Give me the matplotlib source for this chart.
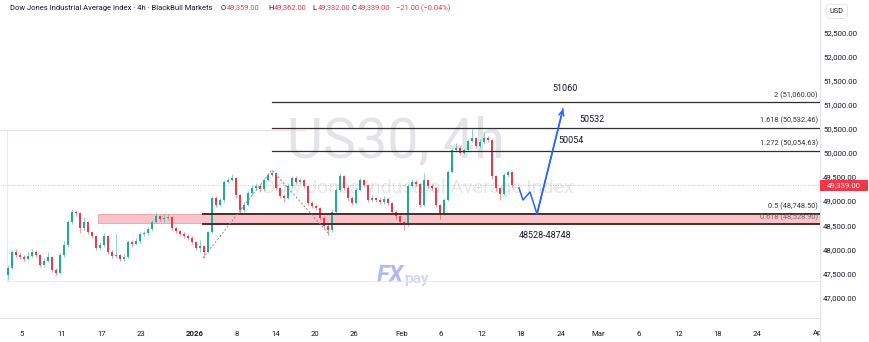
import matplotlib.pyplot as plt
from matplotlib.patches import Rectangle

plt.rcParams['font.family'] = ['Roboto', 'DejaVu Sans']

# 4h свічки US30 (наближено з картинки)
first_open = 47480
closes = [47623, 47955, 47892, 47851, 47809, 47872, 47955, 47892, 47685, 47768,
          47851, 47581, 47519, 47892, 48100, 48577, 48785, 48764, 48453, 48577,
          48370, 48287, 48038, 48100, 48287, 47955, 47872, 47892, 47809, 47851,
          48162, 48121, 48183, 48328, 48349, 48432, 48577, 48702, 48640, 48660,
          48681, 48453, 48391, 48328, 48287, 48245, 48162, 48038, 48079, 47955,
          48370, 49075, 48930, 49034, 49408, 49449, 49491, 49138, 48826, 48930,
          49179, 49283, 49324, 49262, 49449, 49553, 49594, 49283, 49117, 49075,
          49324, 49491, 49408, 49449, 49324, 48972, 48909, 48868, 48660, 48494,
          48411, 48785, 49241, 49532, 49283, 49075, 48972, 49241, 49449, 49345,
          49034, 49075, 49034, 48992, 49055, 48972, 48785, 48702, 48577, 48515,
          49324, 49408, 49366, 48930, 49449, 49324, 49283, 48930, 48743, 49034,
          49615, 50072, 50113, 50009, 50072, 50258, 50321, 50155, 50238, 50321,
          50279, 49532, 49283, 49158, 49553, 49615, 49339]
highs = [47680, 48000, 48020, 47940, 47900, 47960, 48010, 47990, 47920, 47830,
         47960, 47880, 47620, 47940, 48180, 48620, 48840, 48830, 48790, 48680,
         48600, 48400, 48300, 48160, 48340, 48310, 47990, 48330, 47920, 47930,
         48200, 48200, 48240, 48380, 48400, 48480, 48620, 48780, 48730, 48740,
         48740, 48700, 48480, 48420, 48360, 48320, 48280, 48190, 48200, 48110,
         48400, 49120, 49110, 49080, 49450, 49520, 49580, 49520, 49160, 48990,
         49220, 49340, 49380, 49360, 49490, 49600, 49660, 49610, 49300, 49160,
         49360, 49540, 49530, 49500, 49470, 49340, 49010, 48950, 48890, 48700,
         48560, 48820, 49280, 49600, 49560, 49320, 49110, 49280, 49500, 49480,
         49370, 49130, 49100, 49070, 49110, 49090, 49000, 48820, 48730, 48600,
         49360, 49460, 49440, 49390, 49600, 49470, 49360, 49310, 48960, 49080,
         49650, 50110, 50220, 50150, 50120, 50300, 50510, 50340, 50290, 50420,
         50360, 50300, 49560, 49300, 49590, 49660, 49640]
lows = [47380, 47600, 47860, 47800, 47760, 47780, 47850, 47850, 47640, 47650,
        47740, 47550, 47470, 47500, 47860, 48060, 48540, 48700, 48350, 48420,
        48330, 48240, 47990, 47990, 48060, 47920, 47820, 47840, 47760, 47770,
        47830, 48060, 48090, 48150, 48290, 48310, 48400, 48560, 48600, 48580,
        48620, 48420, 48350, 48290, 48250, 48200, 48120, 47990, 47950, 47830,
        47930, 48340, 48890, 48900, 49000, 49380, 49420, 49080, 48760, 48780,
        48900, 49140, 49240, 49200, 49230, 49420, 49530, 49240, 49080, 49000,
        49050, 49300, 49370, 49380, 49280, 48930, 48860, 48820, 48610, 48440,
        48300, 48380, 48760, 49200, 49240, 49020, 48920, 48950, 49220, 49300,
        48990, 49000, 48990, 48950, 48960, 48930, 48740, 48640, 48520, 48410,
        48490, 49300, 49320, 48880, 48910, 49280, 49240, 48880, 48640, 48720,
        49010, 49590, 50030, 49960, 49980, 50040, 50230, 50110, 50120, 50200,
        50230, 49480, 49230, 49034, 49130, 49520, 49300]
opens = [first_open] + closes[:-1]

# рівні Фібоначчі
fib_levels = [51060.00, 50532.46, 50054.63, 48748.50, 48528.90]
fib_labels = ['2 (51,060.00)', '1.618 (50,532.46)', '1.272 (50,054.63)',
              '0.5 (48,748.50)', '0.618 (48,528.90)']
# точки інструменту фібо (індекс свічки, ціна)
fib_x = [48.75, 66, 80.5]
fib_y = [47830, 49657, 48307]
# прогноз (синя лінія)
path_x = [127.75, 128.75, 130.5, 132.25, 138.75]
path_y = [49283, 49034, 49200, 48743, 50923]
targets = ['51060', '50532', '50054', '48528-48748']
target_x = [139.25, 146, 140.75, 134.25]
target_y = [51358, 50715, 50279, 48307]

price_ticks = list(range(47000, 53000, 500))
date_pos = [3.5, 13.5, 23.5, 33.25, 46.75, 57.25, 67, 76.75, 86.5, 98.5, 108.25,
            118.5, 128.25, 138.25, 147.5, 157.75, 167.75, 177.5, 187.25, 202.8]
date_labels = ['5', '11', '17', '23', '2026', '8', '14', '20', '26', 'Feb', '6',
               '12', '18', '24', 'Mar', '6', '12', '18', '24', 'Apr']
last_price = 49339.00

up_col = '#22ab94'
dn_col = '#f23645'
txt_col = '#131722'

W, H = 870, 342
fig = plt.figure(figsize=(W / 100, H / 100), dpi=100)
ax = fig.add_axes([0, 24 / H, 820 / W, 318 / H])
ax.set_xlim(-2, 203)
ax.set_ylim(46585, 53185)
for s in ax.spines.values():
    s.set_visible(False)
ax.set_yticks([])
ax.set_xticks(date_pos)
ax.set_xticklabels(date_labels, fontsize=5.6, color=txt_col)
ax.tick_params(axis='x', length=0, pad=9)
for lbl in ax.get_xticklabels():
    if lbl.get_text() == '2026':
        lbl.set_fontweight('bold')

# водяні знаки
ax.text(97, 50238, 'US30, 4h', fontsize=40, color='#e3e4e8', ha='center',
        va='center', zorder=0)
ax.text(102.5, 49283, 'Dow Jones Industrial Average Index', fontsize=14,
        color='#e6e7ea', ha='center', va='center', zorder=0)
ax.text(99, 47457, 'FX', fontsize=17, fontweight='bold', fontstyle='italic',
        color='#8587ec', alpha=0.6, ha='right', va='center', zorder=0)
ax.text(99, 47400, 'pay', fontsize=11, fontweight='bold', color='#c9caf3',
        alpha=0.8, ha='left', va='center', zorder=0)

# світла рамка
ax.plot([-0.25, -0.25], [47353, 50487], color='#e6e8ee', lw=0.6, zorder=1)
ax.plot([-0.25, 203], [47353, 47353], color='#e6e8ee', lw=0.6, zorder=1)
ax.plot([-2, 74.5], [50487, 50487], color='#f6d5d8', lw=0.6, zorder=1)

# рожева зона
ax.add_patch(Rectangle((22.5, 48560), 203 - 22.5, 48745 - 48560,
                       facecolor='#f9c4c9', edgecolor='#f0909a', lw=0.5, zorder=1))
ax.add_patch(Rectangle((48.75, 48528.9), 203 - 48.75, 48748.5 - 48528.9,
                       facecolor='#f9c4c9', edgecolor='none', zorder=1))

# поточна ціна
ax.axhline(last_price, color='#f23645', lw=0.6, ls=(0, (1, 2)), alpha=0.5, zorder=1)

# свічки
for i, (o, hi, lo, c) in enumerate(zip(opens, highs, lows, closes)):
    col = up_col if c >= o else dn_col
    ax.vlines(i, lo, hi, color=col, lw=0.6, alpha=0.6, zorder=3)
    ax.bar(i, max(abs(c - o), 10), bottom=min(o, c), width=0.7, color=col,
           lw=0, zorder=4)

# фібо-лінії
for k, (lv, lab) in enumerate(zip(fib_levels, fib_labels)):
    if k < 3:
        ax.plot([66, 203], [lv, lv], color='#2f2f2f', lw=0.9, zorder=5)
    else:
        ax.plot([48.75, 203], [lv, lv], color='#4d2b2b', lw=1.4, zorder=5)
    ax.annotate(lab, (202.5, lv), xytext=(0, 2.5), textcoords='offset points',
                ha='right', va='bottom', fontsize=5.3,
                color='#7a6a6a' if k == 4 else '#333333', zorder=6)
ax.plot(fib_x, fib_y, color='#8a8a8a', lw=0.7, ls=(0, (2, 2)), zorder=5)

# прогноз
ax.plot(path_x, path_y, color='#2962ff', lw=1.1, zorder=6)
ax.annotate('', xy=(path_x[-1], path_y[-1]), xytext=(path_x[-2], path_y[-2]),
            arrowprops=dict(arrowstyle='->', color='#2962ff', lw=1.1,
                            mutation_scale=9, shrinkA=0, shrinkB=0), zorder=6)
for t, tx, ty in zip(targets, target_x, target_y):
    ax.text(tx, ty, t, fontsize=6.5, color=txt_col, ha='center', va='center',
            zorder=6)

# цінова шкала
ax2 = fig.add_axes([820 / W, 24 / H, 50 / W, 318 / H], sharey=ax)
ax2.set_xlim(0, 1)
ax2.set_xticks([])
ax2.tick_params(axis='y', left=False, labelleft=False)
for s in ax2.spines.values():
    s.set_visible(False)
ax2.axvline(0, color='#e0e3eb', lw=0.8)
for v in price_ticks:
    ax2.text(0.06, v, f'{v:,.2f}', fontsize=5.6, color=txt_col, va='center',
             ha='left', transform=ax2.get_yaxis_transform())
ax2.add_patch(Rectangle((0, last_price - 115), 0.96, 230, facecolor='#f23645',
                        edgecolor='none', transform=ax2.get_yaxis_transform(),
                        zorder=3))
ax2.text(0.48, last_price, f'{last_price:,.2f}', fontsize=5.6, color='white',
         ha='center', va='center', transform=ax2.get_yaxis_transform(), zorder=4)
ax2.text(0.2, 52950, 'USD', fontsize=5.2, color=txt_col, va='center',
         transform=ax2.get_yaxis_transform(),
         bbox=dict(boxstyle='round,pad=0.5', fc='white', ec='#e0e3eb', lw=0.6))
ax2.set_zorder(3)

# правий нижній кут, що ховає частину "Apr"
fig.add_artist(Rectangle((820 / W, 0), 50 / W, 24 / H, facecolor='white',
                         edgecolor='none', transform=fig.transFigure, zorder=10))
fig.add_artist(plt.Line2D([0, 820 / W], [24 / H, 24 / H], color='#e0e3eb',
                          lw=0.8, transform=fig.transFigure))
fig.add_artist(plt.Line2D([820 / W, 820 / W], [0, 24 / H], color='#e0e3eb',
                          lw=0.8, transform=fig.transFigure, zorder=11))

# заголовок
ty = 1 - 8 / H
fig.text(10 / W, ty, 'Dow Jones Industrial Average Index · 4h · BlackBull Markets',
         fontsize=5.5, color=txt_col, va='center')
for px, letter, val in [(221, 'O', '49,359.00'), (268, 'H', '49,362.00'),
                        (312, 'L', '49,332.00'), (352, 'C', '49,339.00')]:
    fig.text(px / W, ty, letter, fontsize=5.4, color=txt_col, va='center')
    fig.text((px + 5.5) / W, ty, val, fontsize=5.4, color=dn_col, va='center')
fig.text(396 / W, ty, '−21.00 (−0.04%)', fontsize=5.4, color=dn_col, va='center')

fig.savefig('out.png', dpi=100)
